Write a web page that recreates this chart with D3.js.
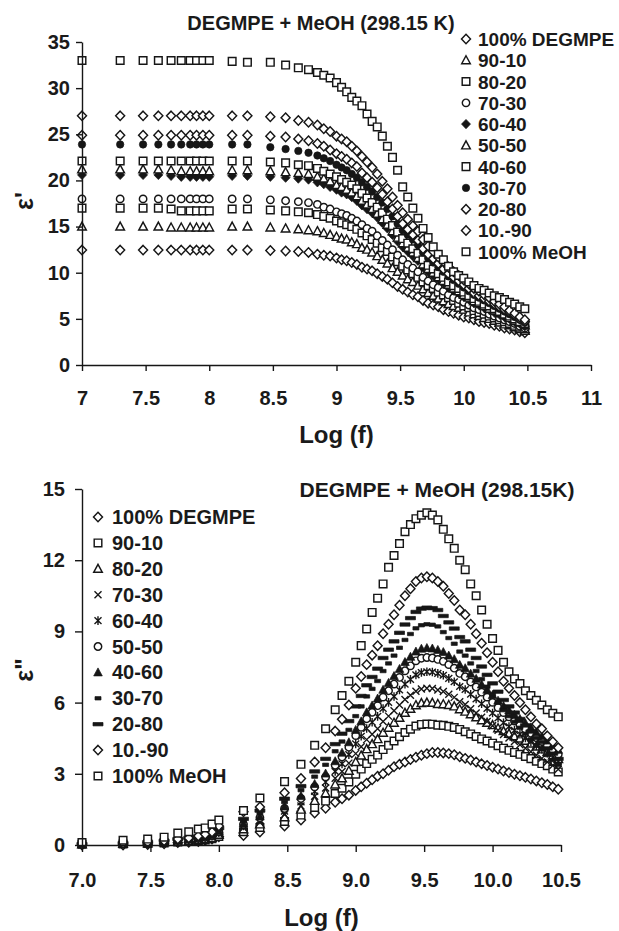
<!DOCTYPE html>
<html><head><meta charset="utf-8">
<script src="https://cdn.jsdelivr.net/npm/d3@7"></script>
<style>
html,body{margin:0;padding:0;background:#fff;}
svg{display:block;}
text{font-family:"Liberation Sans",Arial,Helvetica,sans-serif;font-weight:bold;fill:#1a1a1a;}
</style></head><body>
<svg id="chart" width="619" height="931"></svg>
<script>
// ---------- DATA ----------
const logF = [7.00,7.30,7.48,7.60,7.70,7.78,7.85,7.90,7.95,8.00,8.18,8.30,8.48,8.60,
  8.70,8.78,8.85,8.90,8.95,
  9.00,9.04,9.08,9.12,9.16,9.20,9.24,9.28,9.32,9.36,9.40,9.44,9.48,9.52,9.56,9.60,
  9.64,9.68,9.72,9.76,9.80,9.84,9.88,9.92,9.96,10.00,10.04,10.08,10.12,10.16,10.20,10.24,10.28,10.32,10.36,10.40,10.44,10.48];

const topSeriesNames = ["100% DEGMPE","90-10","80-20","70-30","60-40","50-50","40-60","30-70","20-80","10.-90","100% MeOH"];
const botSeriesNames = ["100% DEGMPE","90-10","80-20","70-30","60-40","50-50","40-60","30-70","20-80","10.-90","100% MeOH"];

// epsilon' (top chart)
const ep_DEGMPE = [12.45,12.45,12.45,12.45,12.45,12.45,12.45,12.45,12.45,12.45,12.45,12.45,12.4,12.35,
  12.3,12.2,12.0,11.9,11.8,11.6,11.4,11.3,11.1,10.9,10.6,10.4,10.2,9.9,9.6,9.3,8.9,8.5,8.2,7.9,7.6,7.4,7.0,6.7,6.5,6.3,6.0,5.8,5.6,5.4,5.2,5.1,4.9,4.7,4.6,4.5,4.3,4.2,4.0,3.9,3.8,3.6,3.5];
const ep_90_10 = [15.0,15.0,15.0,15.0,14.9,14.9,14.9,14.9,14.9,14.9,15.0,15.0,14.9,14.8,
  14.7,14.6,14.5,14.3,14.1,13.9,13.7,13.6,13.3,13.1,12.7,12.5,12.2,11.8,11.4,11.0,10.5,10.1,9.7,9.3,9.0,8.6,8.2,7.8,7.5,7.2,6.9,6.6,6.4,6.2,6.0,5.7,5.5,5.3,5.1,5.0,4.8,4.6,4.4,4.3,4.1,3.9,3.7];
const ep_80_20 = [17.0,17.0,17.0,17.0,16.9,16.7,16.7,16.7,16.7,16.7,16.9,16.9,16.8,16.7,
  16.6,16.5,16.3,16.1,15.9,15.6,15.4,15.2,15.0,14.7,14.3,14.0,13.6,13.2,12.7,12.3,11.7,11.2,10.7,10.3,9.9,9.5,9.0,8.6,8.3,7.9,7.6,7.3,7.0,6.7,6.4,6.2,5.9,5.7,5.5,5.3,5.1,4.9,4.7,4.5,4.3,4.1,3.9];
const ep_70_30 = [18.0,18.0,18.0,18.0,18.0,18.0,18.0,18.0,18.0,18.0,18.0,18.0,17.9,17.8,
  17.7,17.6,17.4,17.1,16.9,16.6,16.4,16.2,15.9,15.6,15.2,14.8,14.5,14.0,13.5,13.0,12.5,11.9,11.4,10.9,10.5,10.1,9.5,9.1,8.7,8.4,8.0,7.6,7.3,7.1,6.8,6.5,6.2,6.0,5.8,5.5,5.3,5.1,4.9,4.7,4.5,4.2,4.0];
const ep_60_40 = [20.6,20.6,20.6,20.6,20.5,20.4,20.4,20.4,20.4,20.4,20.5,20.5,20.4,20.3,
  20.2,20.1,19.8,19.6,19.3,19.0,18.7,18.5,18.2,17.8,17.3,16.9,16.5,16.0,15.4,14.8,14.1,13.4,12.8,12.3,11.8,11.3,10.6,10.1,9.7,9.3,8.9,8.4,8.1,7.8,7.4,7.1,6.7,6.5,6.2,6.0,5.7,5.5,5.2,5.0,4.7,4.5,4.2];
const ep_50_50 = [21.2,21.2,21.2,21.2,21.1,21.0,21.0,21.0,21.0,21.0,21.1,21.1,21.0,20.9,
  20.8,20.7,20.4,20.2,19.9,19.5,19.3,19.0,18.7,18.3,17.8,17.4,16.9,16.4,15.8,15.2,14.5,13.8,13.2,12.7,12.2,11.6,10.9,10.4,10.0,9.5,9.1,8.7,8.3,8.0,7.6,7.3,6.9,6.7,6.4,6.1,5.9,5.6,5.4,5.1,4.8,4.6,4.3];
const ep_40_60 = [22.1,22.1,22.1,22.1,22.1,22.1,22.1,22.1,22.1,22.1,22.1,22.1,22.0,21.9,
  21.7,21.6,21.3,21.0,20.7,20.4,20.1,19.8,19.5,19.1,18.6,18.1,17.6,17.1,16.5,15.8,15.1,14.4,13.7,13.2,12.6,12.1,11.4,10.8,10.4,9.9,9.5,9.0,8.6,8.3,7.9,7.5,7.2,6.9,6.6,6.4,6.1,5.8,5.5,5.3,5.0,4.7,4.5];
const ep_30_70 = [23.9,23.9,23.9,23.9,23.9,23.9,23.9,23.9,23.9,23.9,23.9,23.9,23.6,23.4,
  23.2,23.0,22.7,22.4,22.1,21.7,21.4,21.1,20.7,20.3,19.8,19.3,18.8,18.2,17.6,16.9,16.1,15.3,14.6,14.1,13.6,13.0,12.2,11.6,11.1,10.6,10.1,9.6,9.2,8.8,8.4,8.0,7.6,7.3,7.0,6.7,6.4,6.1,5.8,5.5,5.2,4.9,4.6];
const ep_20_80 = [24.9,24.9,24.9,24.9,24.9,24.9,24.9,24.9,24.9,24.9,24.9,24.9,24.8,24.7,
  24.5,24.3,24.0,23.7,23.3,22.9,22.6,22.3,21.9,21.5,20.8,20.3,19.8,19.2,18.5,17.7,16.9,16.1,15.3,14.7,14.1,13.5,12.6,12.0,11.5,11.0,10.4,9.9,9.5,9.1,8.7,8.3,7.8,7.5,7.2,6.9,6.6,6.3,6.0,5.7,5.4,5.0,4.7];
const ep_10_90 = [27.0,27.0,27.0,27.0,27.0,27.0,27.0,27.0,27.0,27.0,27.0,27.0,26.9,26.8,
  26.5,26.3,26.0,25.6,25.3,24.8,24.5,24.2,23.7,23.2,22.6,22.0,21.4,20.7,19.9,19.1,18.2,17.3,16.5,15.8,15.1,14.5,13.6,12.9,12.3,11.7,11.2,10.6,10.1,9.7,9.2,8.8,8.3,8.0,7.6,7.3,6.9,6.6,6.3,5.9,5.6,5.2,4.9];
const ep_MeOH = [33.0,33.0,33.0,33.0,33.0,33.0,33.0,33.0,33.0,33.0,32.9,32.8,32.8,32.5,
  32.2,32.0,31.7,31.4,31.1,30.6,30.1,29.6,29.0,28.6,28.1,27.2,26.4,25.8,24.8,23.7,22.5,21.1,19.3,18.2,17.0,15.9,14.8,13.8,12.8,12.0,11.4,10.7,10.1,9.7,9.4,9.0,8.6,8.3,8.1,7.8,7.5,7.3,7.1,6.8,6.6,6.3,6.1];

// epsilon'' (bottom chart)
const epp_DEGMPE = [0.0,0.0,0.02,0.05,0.1,0.12,0.15,0.2,0.25,0.35,0.4,0.55,0.8,1.05,
  1.35,1.55,1.8,1.95,2.1,
  2.3,2.45,2.6,2.75,2.9,3.0,3.15,3.3,3.4,3.5,3.6,3.7,3.78,3.85,3.9,3.9,
  3.88,3.85,3.8,3.72,3.65,3.58,3.5,3.42,3.35,3.28,3.2,3.12,3.05,2.98,2.92,2.85,2.78,2.7,2.62,2.55,2.45,2.35];
const epp_90_10 = [0.03,0.04,0.06,0.09,0.13,0.15,0.18,0.21,0.26,0.36,0.56,0.74,0.99,1.26,
  1.58,1.85,2.17,2.39,2.66,
  2.98,3.2,3.43,3.61,3.79,4.02,4.2,4.38,4.56,4.74,4.88,5.01,5.08,5.1,5.09,5.05,
  5.04,5.0,4.95,4.87,4.77,4.68,4.57,4.47,4.38,4.29,4.18,4.08,3.99,3.9,3.82,3.73,3.64,3.53,3.43,3.34,3.2,3.08];
const epp_80_20 = [0.03,0.05,0.07,0.11,0.15,0.18,0.22,0.25,0.3,0.43,0.66,0.87,1.17,1.49,
  1.86,2.18,2.55,2.81,3.13,
  3.5,3.77,4.04,4.25,4.46,4.73,4.94,5.15,5.36,5.57,5.74,5.89,5.98,6.0,5.99,5.94,
  5.93,5.9,5.84,5.72,5.62,5.51,5.38,5.26,5.15,5.05,4.92,4.8,4.69,4.58,4.49,4.39,4.28,4.15,4.03,3.92,3.77,3.62];
const epp_70_30 = [0.03,0.05,0.08,0.12,0.17,0.2,0.24,0.28,0.33,0.47,0.73,0.96,1.29,1.64,
  2.05,2.4,2.81,3.1,3.45,
  3.85,4.14,4.44,4.67,4.9,5.2,5.43,5.66,5.9,6.13,6.31,6.48,6.57,6.6,6.59,6.53,
  6.47,6.35,6.22,6.04,5.92,5.74,5.56,5.38,5.2,5.02,4.84,4.66,4.51,4.36,4.22,4.08,3.93,3.78,3.65,3.5,3.35,3.19];
const epp_60_40 = [0.04,0.06,0.09,0.13,0.18,0.22,0.26,0.31,0.37,0.52,0.8,1.06,1.42,1.81,
  2.26,2.65,3.1,3.42,3.81,
  4.26,4.58,4.91,5.17,5.42,5.75,6.01,6.26,6.53,6.78,6.98,7.17,7.27,7.3,7.29,7.23,
  7.15,7.02,6.88,6.68,6.55,6.35,6.15,5.95,5.75,5.56,5.35,5.15,4.99,4.83,4.67,4.51,4.35,4.18,4.04,3.87,3.7,3.53];
const epp_50_50 = [0.04,0.06,0.09,0.14,0.2,0.24,0.28,0.33,0.4,0.56,0.87,1.15,1.54,1.96,
  2.45,2.87,3.36,3.71,4.12,
  4.61,4.96,5.32,5.59,5.87,6.23,6.5,6.78,7.06,7.34,7.55,7.76,7.87,7.9,7.88,7.82,
  7.74,7.6,7.45,7.23,7.09,6.87,6.66,6.44,6.23,6.01,5.79,5.58,5.4,5.22,5.06,4.88,4.71,4.52,4.37,4.19,4.01,3.82];
const epp_40_60 = [0.04,0.07,0.1,0.15,0.21,0.25,0.3,0.35,0.42,0.59,0.91,1.2,1.62,2.06,
  2.57,3.01,3.53,3.89,4.33,
  4.85,5.21,5.59,5.88,6.17,6.54,6.83,7.12,7.42,7.71,7.93,8.15,8.27,8.3,8.28,8.22,
  8.13,7.98,7.83,7.59,7.45,7.22,7.0,6.76,6.54,6.32,6.08,5.86,5.67,5.49,5.31,5.13,4.95,4.75,4.59,4.4,4.21,4.01];
const epp_30_70 = [0.05,0.07,0.11,0.17,0.23,0.28,0.33,0.39,0.47,0.66,1.02,1.35,1.81,2.31,
  2.88,3.38,3.95,4.36,4.85,
  5.43,5.84,6.26,6.58,6.91,7.33,7.65,7.98,8.31,8.64,8.89,9.13,9.26,9.3,9.28,9.21,
  8.97,8.72,8.48,8.15,7.98,7.65,7.33,6.99,6.67,6.33,6.01,5.68,5.43,5.19,4.94,4.69,4.45,4.19,4.04,3.79,3.58,3.38];
const epp_20_80 = [0.05,0.08,0.12,0.18,0.25,0.3,0.36,0.42,0.5,0.71,1.1,1.45,1.95,2.48,
  3.1,3.63,4.25,4.69,5.22,
  5.84,6.28,6.73,7.08,7.43,7.88,8.23,8.58,8.94,9.29,9.56,9.82,9.96,10.0,9.98,9.9,
  9.65,9.38,9.12,8.76,8.58,8.23,7.88,7.52,7.17,6.81,6.46,6.11,5.84,5.58,5.31,5.04,4.78,4.51,4.34,4.07,3.85,3.63];
const epp_10_90 = [0.05,0.08,0.12,0.18,0.25,0.3,0.38,0.45,0.55,0.8,1.4,1.6,2.2,2.8,
  3.5,4.1,4.8,5.3,5.9,
  6.6,7.1,7.6,8.0,8.4,8.9,9.3,9.7,10.1,10.5,10.8,11.1,11.25,11.3,11.25,11.1,
  10.9,10.6,10.3,9.9,9.7,9.3,8.9,8.5,8.1,7.7,7.3,6.9,6.6,6.3,6.0,5.7,5.4,5.1,4.9,4.6,4.35,4.1];
const epp_MeOH = [0.1,0.2,0.25,0.33,0.5,0.56,0.67,0.72,0.88,1.05,1.45,1.98,2.67,3.4,
  4.2,4.9,5.7,6.3,6.9,
  7.7,8.4,9.1,9.8,10.4,11.0,11.7,12.2,12.7,13.2,13.5,13.75,13.9,14.0,13.9,13.7,
  13.3,12.9,12.5,12.0,11.6,11.0,10.5,9.9,9.3,8.7,8.2,7.7,7.3,7.0,6.8,6.5,6.3,6.1,5.9,5.7,5.55,5.4];

const topMarkers = ["diamond","triangle","square","circle","diamondFilled","triangle","square","circleFilled","diamond","diamond","square"];
const botMarkers = ["diamond","square","triangle","x","asterisk","circle","triangleFilled","dashShort","dashLong","diamond","square"];

const topXTicks = [7,7.5,8,8.5,9,9.5,10,10.5,11];
const topYTicks = [0,5,10,15,20,25,30,35];
const botXTicks = [7.0,7.5,8.0,8.5,9.0,9.5,10.0,10.5];
const botYTicks = [0,3,6,9,12,15];

const topTitle = "DEGMPE + MeOH (298.15 K)";
const botTitle = "DEGMPE + MeOH (298.15K)";
const xTitle = "Log (f)";
const topYTitle = "\u03B5'";
const botYTitle = "\u03B5\"";

// ---------- DRAWING ----------
const topValues = [ep_DEGMPE,ep_90_10,ep_80_20,ep_70_30,ep_60_40,ep_50_50,ep_40_60,ep_30_70,ep_20_80,ep_10_90,ep_MeOH];
const botValues = [epp_DEGMPE,epp_90_10,epp_80_20,epp_70_30,epp_60_40,epp_50_50,epp_40_60,epp_30_70,epp_20_80,epp_10_90,epp_MeOH];

const INK = "#161616";
const svg = d3.select("#chart");

function markerPath(t){
  switch(t){
    case "diamond": case "diamondFilled": return "M0,-4.7L4.5,0L0,4.7L-4.5,0Z";
    case "square": return "M-3.8,-3.8H3.8V3.8H-3.8Z";
    case "triangle": case "triangleFilled": return "M0,-4.5L4.3,3.5L-4.3,3.5Z";
    case "circle": case "circleFilled": return "M3.7,0A3.7,3.7 0 1,1 -3.7,0A3.7,3.7 0 1,1 3.7,0Z";
    case "x": return "M-3.5,-3.5L3.5,3.5M3.5,-3.5L-3.5,3.5";
    case "asterisk": return "M-3.5,-3.3L3.5,3.3M3.5,-3.3L-3.5,3.3M0,-4.3L0,4.3";
    case "dashShort": return "M-3,-1.7H3V1.7H-3Z";
    case "dashLong": return "M-5,-1.7H5V1.7H-5Z";
  }
}
function styleMarker(sel, t){
  const filled = ["diamondFilled","triangleFilled","circleFilled","dashShort","dashLong"].includes(t);
  const lineOnly = (t==="x"||t==="asterisk");
  sel.attr("d", markerPath(t))
     .attr("fill", lineOnly ? "none" : (filled ? INK : "#fff"))
     .attr("stroke", INK)
     .attr("stroke-width", filled ? 0.7 : (lineOnly ? 1.4 : 1.45))
     .attr("stroke-linejoin","miter");
}

function drawChart(cfg){
  const x = d3.scaleLinear().domain(cfg.xDomain).range(cfg.xRange);
  const y = d3.scaleLinear().domain(cfg.yDomain).range(cfg.yRange);
  const g = svg.append("g");

  // series
  cfg.values.forEach((vals, si) => {
    const pts = vals.map((v,i)=>({x:logF[i], y:v}));
    g.append("g").selectAll("path").data(pts).join("path")
      .attr("transform", d => `translate(${x(d.x)},${y(d.y)})`)
      .call(s => styleMarker(s, cfg.markers[si]));
  });

  // axes
  const xAxis = d3.axisBottom(x).tickValues(cfg.xTicks).tickFormat(cfg.xFmt)
      .tickSizeInner(cfg.tick).tickSizeOuter(0).tickPadding(cfg.xPad);
  const yAxis = d3.axisLeft(y).tickValues(cfg.yTicks).tickFormat(d3.format("d"))
      .tickSizeInner(cfg.tick).tickSizeOuter(0).tickPadding(cfg.yPad);
  const gx = g.append("g").attr("transform",`translate(0,${cfg.yRange[0]})`).call(xAxis);
  const gy = g.append("g").attr("transform",`translate(${cfg.xRange[0]},0)`).call(yAxis);
  [gx,gy].forEach(a=>{
    a.selectAll("path,line").attr("stroke",INK).attr("stroke-width",1.4);
    a.selectAll("text").attr("fill",INK).style("font-size","20px").style("font-weight","bold")
      .style("font-family",'"Liberation Sans",Arial,sans-serif');
  });

  // titles
  g.append("text").attr("x",cfg.titleX).attr("y",cfg.titleY).attr("text-anchor","middle")
    .style("font-size",cfg.titleSize+"px").text(cfg.title);
  g.append("text").attr("x",(cfg.xRange[0]+cfg.xRange[1])/2).attr("y",cfg.xTitleY)
    .attr("text-anchor","middle").style("font-size","24px").text(xTitle);
  g.append("text").attr("transform",`translate(${cfg.yTitleX},${cfg.yTitleY}) rotate(-90)`)
    .attr("text-anchor","middle").style("font-size","25px").text(cfg.yTitle);

  // legend
  const lg = g.append("g");
  cfg.names.forEach((name,i)=>{
    const by = cfg.legY0 + cfg.legDy*i;
    lg.append("path").attr("transform",`translate(${cfg.legSymX},${by-7})`)
      .call(s=>styleMarker(s, cfg.markers[i]));
    lg.append("text").attr("x",cfg.legTextX).attr("y",by)
      .style("font-size",cfg.legSize+"px").text(name);
  });
}

drawChart({
  values: topValues, markers: topMarkers, names: topSeriesNames,
  xDomain:[7,11], xRange:[82,591], yDomain:[0,35], yRange:[365,42],
  xTicks: topXTicks, yTicks: topYTicks, xFmt: d3.format("~g"),
  tick:6, xPad:20, yPad:6,
  title: topTitle, titleX:321, titleY:30, titleSize:20,
  xTitleY:443, yTitle: topYTitle, yTitleX:33, yTitleY:201,
  legY0:46, legDy:21.27, legSymX:466, legTextX:478, legSize:19
});

drawChart({
  values: botValues, markers: botMarkers, names: botSeriesNames,
  xDomain:[7,10.5], xRange:[82,561], yDomain:[0,15], yRange:[845,489],
  xTicks: botXTicks, yTicks: botYTicks, xFmt: d3.format(".1f"),
  tick:7, xPad:21, yPad:10,
  title: botTitle, titleX:437, titleY:497, titleSize:21,
  xTitleY:926, yTitle: botYTitle, yTitleX:33, yTitleY:670,
  legY0:524, legDy:25.9, legSymX:98, legTextX:112, legSize:20
});
</script>
</body></html>
